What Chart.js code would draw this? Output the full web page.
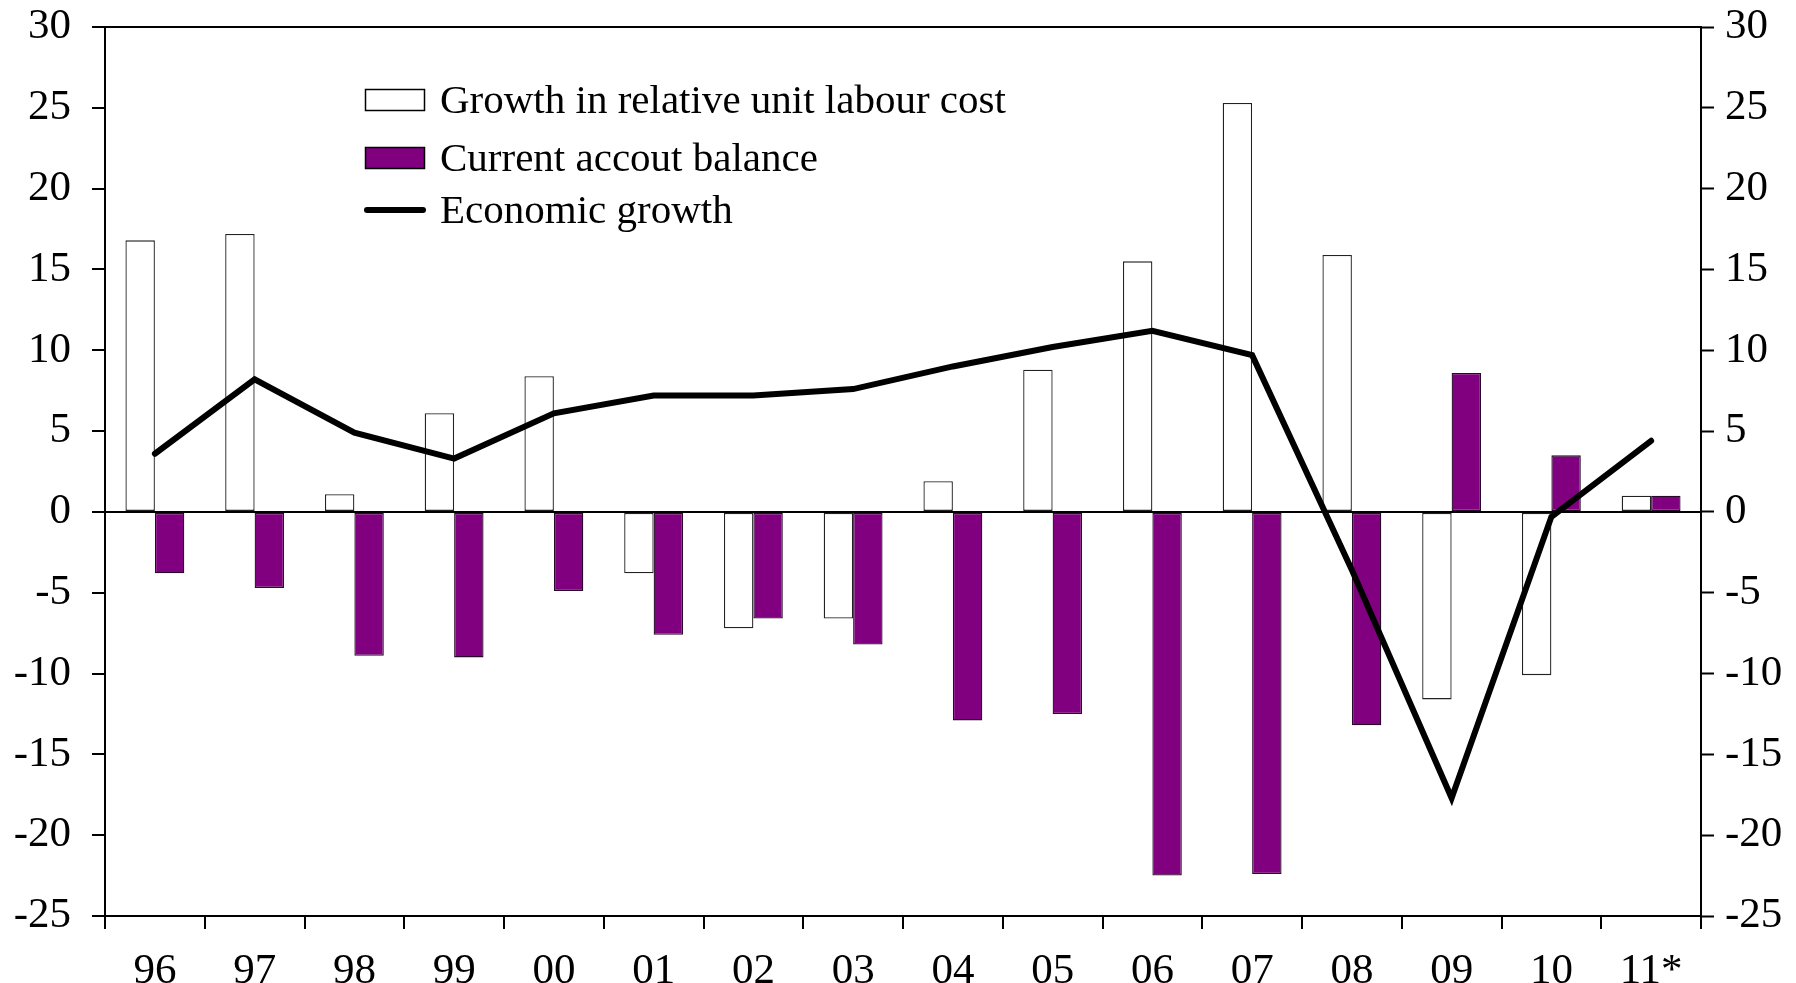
<!DOCTYPE html>
<html>
<head>
<meta charset="utf-8">
<script src="https://cdn.jsdelivr.net/npm/chart.js@4/dist/chart.umd.min.js"></script>
<style>
  html, body { margin: 0; padding: 0; background: #fff; }
  #wrap { width: 1796px; height: 983px; }
</style>
</head>
<body>
<div id="wrap"><canvas id="c" width="1796" height="983"></canvas></div>
<script>
// Years on the category axis
const years = ['96', '97', '98', '99', '00', '01', '02', '03', '04', '05', '06', '07', '08', '09', '10', '11*'];

// Growth in relative unit labour cost, %
const rulcGrowth = [16.8, 17.2, 1.1, 6.1, 8.4, -3.8, -7.2, -6.6, 1.9, 8.8, 15.5, 25.3, 15.9, -11.6, -10.1, 1.0];

// Current account balance, % of GDP
const currentAccount = [-3.8, -4.7, -8.9, -9.0, -4.9, -7.6, -6.6, -8.2, -12.9, -12.5, -22.5, -22.4, -13.2, 8.6, 3.5, 1.0];

// Economic growth, %
const econGrowth = [3.6, 8.2, 4.9, 3.3, 6.1, 7.2, 7.2, 7.6, 9.0, 10.2, 11.2, 9.7, -3.6, -17.7, -0.3, 4.4];

// Value axis ticks (shared by both sides)
const yTicks = [30, 25, 20, 15, 10, 5, 0, -5, -10, -15, -20, -25];

const serif = "'Liberation Serif', 'Times New Roman', serif";
const tickFont = { family: serif, size: 43 };

// Legend stacked in the upper-left of the plot, one entry per dataset
const innerLegend = {
  id: 'innerLegend',
  afterDraw(chart) {
    const ctx = chart.ctx;
    const x0 = 365, boxW = 60, boxH = 22, textX = 440;
    const baselines = [113, 171, 223];
    ctx.save();
    ctx.font = "41px " + serif;
    ctx.textBaseline = 'alphabetic';
    chart.data.datasets.forEach((ds, i) => {
      const base = baselines[i];
      const cy = base - 13;
      if (ds.type === 'line') {
        ctx.strokeStyle = ds.borderColor;
        ctx.lineWidth = ds.borderWidth;
        ctx.lineCap = 'round';
        ctx.beginPath();
        ctx.moveTo(x0 + 2, cy);
        ctx.lineTo(x0 + boxW - 2, cy);
        ctx.stroke();
      } else {
        ctx.fillStyle = ds.backgroundColor;
        ctx.fillRect(x0, cy - boxH / 2, boxW, boxH);
        ctx.strokeStyle = '#000';
        ctx.lineWidth = 1.5;
        ctx.strokeRect(x0 + 0.5, cy - boxH / 2 + 0.5, boxW - 1, boxH - 1);
      }
      ctx.fillStyle = '#000';
      ctx.fillText(ds.label, textX, base);
    });
    ctx.restore();
  }
};

// Keep the plot frame fixed: no extra room reserved for end labels
function noEndPadding(scale) {
  scale.paddingTop = 0;
  scale.paddingBottom = 0;
}

const yAxisCommon = {
  type: 'linear',
  min: -25,
  max: 30,
  afterBuildTicks(scale) { scale.ticks = yTicks.map(v => ({ value: v })); },
  border: { display: true, color: '#000', width: 2 }
};

new Chart(document.getElementById('c'), {
  data: {
    labels: years,
    datasets: [
      {
        type: 'bar',
        label: 'Growth in relative unit labour cost',
        data: rulcGrowth,
        backgroundColor: '#ffffff',
        borderColor: '#222',
        borderWidth: 1.3,
        borderSkipped: false,
        categoryPercentage: 0.59,
        barPercentage: 1.0,
        yAxisID: 'y',
        order: 1
      },
      {
        type: 'bar',
        label: 'Current accout balance',
        data: currentAccount,
        backgroundColor: '#800080',
        borderColor: '#2a0a2a',
        borderWidth: 1.3,
        borderSkipped: false,
        categoryPercentage: 0.59,
        barPercentage: 1.0,
        yAxisID: 'y',
        order: 1
      },
      {
        type: 'line',
        label: 'Economic growth',
        data: econGrowth,
        borderColor: '#000',
        borderWidth: 6,
        pointRadius: 0,
        tension: 0,
        borderCapStyle: 'round',
        borderJoinStyle: 'miter',
        yAxisID: 'y',
        order: 0
      }
    ]
  },
  options: {
    responsive: false,
    animation: false,
    layout: { padding: { top: 27, left: 0, right: 0, bottom: 0 } },
    plugins: {
      legend: { display: false },
      tooltip: { enabled: false }
    },
    scales: {
      x: {
        type: 'category',
        offset: true,
        afterFit(scale) { scale.height = 67; },
        border: { display: true, color: '#000', width: 2 },
        grid: {
          offset: true,
          drawOnChartArea: false,
          drawTicks: true,
          tickLength: 13,
          tickColor: '#000',
          tickWidth: 2,
          lineWidth: 2
        },
        ticks: { color: '#000', font: tickFont, padding: 17, maxRotation: 0, autoSkip: false }
      },
      y: Object.assign({}, yAxisCommon, {
        position: 'left',
        afterFit(scale) { scale.width = 105; noEndPadding(scale); },
        grid: {
          drawOnChartArea: true,
          drawTicks: true,
          tickLength: 13,
          tickColor: '#000',
          tickWidth: 2,
          lineWidth: 2,
          color: c => (c.tick && (c.tick.value === 0 || c.tick.value === 30)) ? '#000' : 'rgba(0,0,0,0)'
        },
        ticks: { color: '#000', font: tickFont, padding: 21 }
      }),
      y2: Object.assign({}, yAxisCommon, {
        position: 'right',
        afterFit(scale) { scale.width = 95; noEndPadding(scale); },
        grid: {
          drawOnChartArea: false,
          drawTicks: true,
          tickLength: 13,
          tickColor: '#000',
          tickWidth: 2
        },
        ticks: { color: '#000', font: tickFont, padding: 11 }
      })
    }
  },
  plugins: [innerLegend]
});
</script>
</body>
</html>
